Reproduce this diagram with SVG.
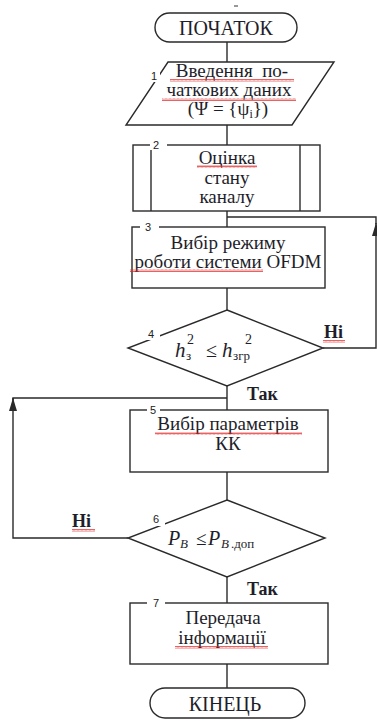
<svg xmlns="http://www.w3.org/2000/svg" width="377" height="722" viewBox="0 0 377 722">
<style>
.s{fill:#fff;stroke:#2a2a2a;stroke-width:1.4}
.c{fill:none;stroke:#2a2a2a;stroke-width:1.4}
.t{font-family:"Liberation Serif","Times New Roman",serif;font-size:19px;fill:#1e1e2a;text-anchor:middle}
.b{font-family:"Liberation Serif","Times New Roman",serif;font-size:18px;font-weight:bold;fill:#1e1e2a}
.n{font-family:"Liberation Sans",Arial,sans-serif;font-size:11px;fill:#222}
.m{font-family:"Liberation Serif","Times New Roman",serif;fill:#1e1e2a}
.g{fill:#fff;stroke:none}
.w{fill:url(#wave);stroke:none}
</style>
<defs>
<marker id="arr" markerUnits="userSpaceOnUse" markerWidth="14" markerHeight="8" refX="13" refY="4" orient="auto">
<path d="M0,0 L13,4 L0,8 z" fill="#2a2a2a"/>
</marker>
<pattern id="wave" width="4" height="3" patternUnits="userSpaceOnUse">
<path d="M0,2.5 L1,0.5 L2,2.5 L3,0.5 L4,2.5" fill="none" stroke="#e02020" stroke-width="0.7"/>
</pattern>
</defs>
<rect x="0" y="0" width="377" height="722" fill="#fff"/>
<line x1="234" y1="6" x2="238" y2="6" stroke="#333" stroke-width="1"/>

<g id="connectors">
<path class="c" d="M227,42 V62"/>
<path class="c" d="M227,125 V145"/>
<path class="c" d="M227,211 V227"/>
<path class="c" d="M227,288 V310"/>
<path class="c" d="M227,386 V410"/>
<path class="c" d="M227,472 V500"/>
<path class="c" d="M227,577 V603"/>
<path class="c" d="M227,664 V688"/>
<path class="c" d="M323,348 H376 V223" marker-end="url(#arr)"/>
<path class="c" d="M376,224 V217 H227"/>
<path class="c" d="M128,538 H13 V398" marker-end="url(#arr)"/>
<path class="c" d="M13,400 V398 H227"/>
<text class="b" x="324" y="338">Ні</text>
<rect class="w" x="323" y="340" width="22" height="3"/>
<text class="b" x="247" y="400">Так</text>
<text class="b" x="72" y="527">Ні</text>
<rect class="w" x="72" y="529" width="23" height="3"/>
<text class="b" x="247" y="595">Так</text>
</g>

<g id="start">
<rect class="s" x="155" y="13" width="142" height="29" rx="14.5"/>
<text class="t" x="226" y="35" style="font-size:20px">ПОЧАТОК</text>
</g>

<g id="n1">
<polygon class="s" points="168,62 334,62 292,125 126,125"/>
<rect class="g" x="148" y="68" width="12" height="14"/>
<text class="n" x="151" y="80">1</text>
<text class="t" x="232" y="77" xml:space="preserve">Введення  по-</text>
<text class="t" x="229" y="96">чаткових даних</text>
<text class="t" x="228" y="115">(Ψ = {ψ<tspan font-size="12" dy="3">і</tspan><tspan dy="-3">})</tspan></text>
<rect class="w" x="170" y="79" width="124" height="3"/>
<rect class="w" x="162" y="98" width="134" height="3"/>
</g>

<g id="n2">
<rect class="s" x="133" y="145" width="187" height="66"/>
<line class="c" x1="151" y1="145" x2="151" y2="211"/>
<line class="c" x1="300" y1="145" x2="300" y2="211"/>
<rect class="g" x="150" y="140" width="17" height="10"/>
<text class="n" x="153" y="149">2</text>
<text class="t" x="227" y="164">Оцінка</text>
<text class="t" x="227" y="184">стану</text>
<text class="t" x="227" y="203">каналу</text>
<rect class="w" x="197" y="165" width="60" height="3"/>
</g>

<g id="n3">
<rect class="s" x="132" y="227" width="193" height="61"/>
<rect class="g" x="140" y="222" width="19" height="10"/>
<text class="n" x="145" y="231">3</text>
<text class="t" x="228" y="249">Вибір режиму</text>
<text class="t" x="228" y="268">роботи системи OFDM</text>
<rect class="w" x="130" y="269" width="133" height="3"/>
</g>

<g id="n4">
<polygon class="s" points="227,310 323,348 227,386 128,348"/>
<rect class="g" x="146" y="327" width="14" height="13"/>
<text class="n" x="148" y="338">4</text>
<text class="m" x="175" y="357" font-size="21" font-style="italic">h</text>
<text class="m" x="187" y="344" font-size="14">2</text>
<text class="m" x="186" y="360" font-size="13">з</text>
<text class="m" x="206" y="357" font-size="20">≤</text>
<text class="m" x="222" y="357" font-size="21" font-style="italic">h</text>
<text class="m" x="245" y="344" font-size="14">2</text>
<text class="m" x="233" y="360" font-size="13">згр</text>
</g>

<g id="n5">
<rect class="s" x="130" y="410" width="198" height="62"/>
<rect class="g" x="147" y="405" width="13" height="10"/>
<text class="n" x="150" y="414">5</text>
<text class="t" x="228" y="430">Вибір параметрів</text>
<text class="t" x="228" y="450">КК</text>
<rect class="w" x="155" y="432" width="147" height="3"/>
</g>

<g id="n6">
<polygon class="s" points="227,500 325,538 227,577 128,538"/>
<rect class="g" x="150" y="512" width="15" height="14"/>
<text class="n" x="153" y="523">6</text>
<text class="m" x="168" y="545" font-size="20" font-style="italic">P</text>
<text class="m" x="180" y="548" font-size="13" font-style="italic">B</text>
<text class="m" x="196" y="545" font-size="19">≤</text>
<text class="m" x="208" y="545" font-size="20" font-style="italic">P</text>
<text class="m" x="221" y="548" font-size="13" font-style="italic">B</text>
<text class="m" x="231" y="548" font-size="13">.доп</text>
</g>

<g id="n7">
<rect class="s" x="130" y="603" width="198" height="61"/>
<rect class="g" x="147" y="598" width="18" height="10"/>
<text class="n" x="153" y="607">7</text>
<text class="t" x="223" y="624">Передача</text>
<text class="t" x="222" y="644">інформації</text>
<rect class="w" x="175" y="646" width="93" height="3"/>
</g>

<g id="end">
<rect class="s" x="150" y="688" width="155" height="30" rx="15"/>
<text class="t" x="225" y="711" style="font-size:20px">КІНЕЦЬ</text>
</g>
</svg>
